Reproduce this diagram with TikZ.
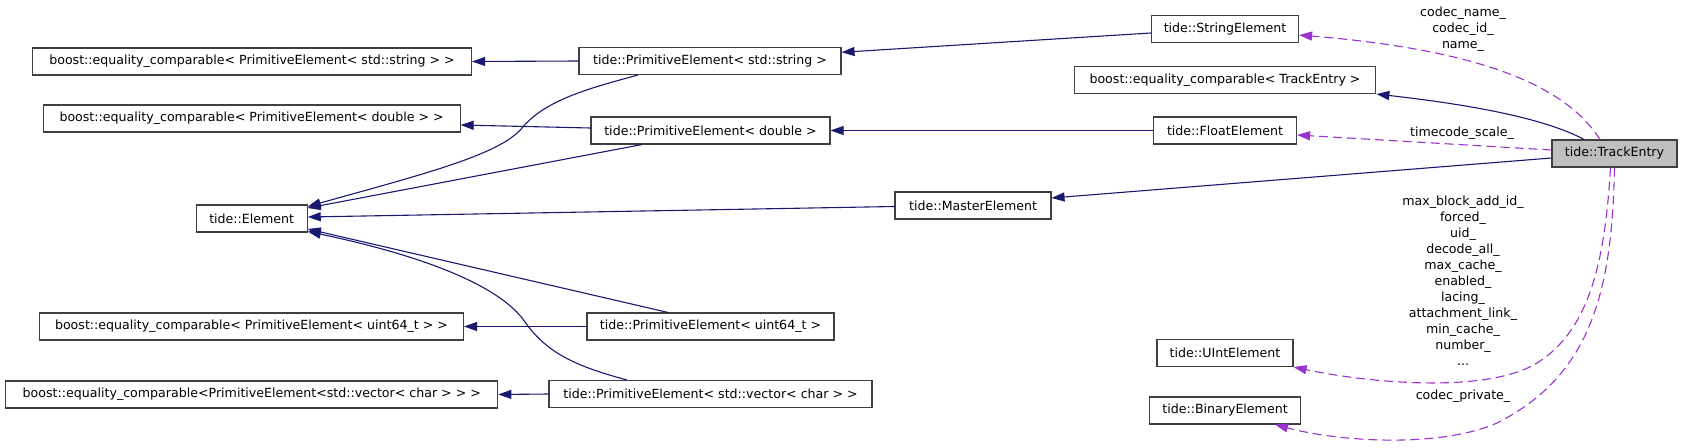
\documentclass[tikz,border=0pt]{standalone}
\usepackage{fontspec}
\setmainfont{DejaVu Sans}
\usetikzlibrary{arrows.meta,calc}
\definecolor{navyedge}{HTML}{191970}
\definecolor{orchid}{HTML}{9A32CD}
\definecolor{selfill}{HTML}{BFBFBF}
\definecolor{boxline}{HTML}{404040}
\tikzset{
  cls/.style={draw=boxline, line width=1.1pt, minimum height=27pt, inner sep=0pt,
    font=\fontsize{12.6}{15}\selectfont, text=black},
  inh/.style={draw=navyedge, line width=1.1pt, -{Triangle[length=13pt,width=9pt]}},
  usedash/.style={draw=orchid, line width=1.1pt, dash pattern=on 9pt off 5pt,
    -{Triangle[length=13pt,width=9pt]}},
  lbl/.style={font=\fontsize{12.6}{16}\selectfont, align=center, inner sep=0pt, text=black}
}
\begin{document}
\begin{tikzpicture}[x=1pt,y=-1pt]
\useasboundingbox (0,0) rectangle (1683,447);
% left column
\node[cls, minimum width=439pt] (becs) at (252,61.5) {boost::equality\_comparable< PrimitiveElement< std::string > >};
\node[cls, minimum width=417pt] (becd) at (251.6,118.5) {boost::equality\_comparable< PrimitiveElement< double > >};
\node[cls, minimum width=111pt] (elem) at (251.7,218.5) {tide::Element};
\node[cls, minimum width=424pt] (becu) at (251.5,326.5) {boost::equality\_comparable< PrimitiveElement< uint64\_t > >};
\node[cls, minimum width=492pt] (becv) at (251.8,394.5) {boost::equality\_comparable<PrimitiveElement<std::vector< char > > >};
% middle column
\node[cls, minimum width=262pt] (pes) at (710,61) {tide::PrimitiveElement< std::string >};
\node[cls, minimum width=239pt] (ped) at (710.5,130.5) {tide::PrimitiveElement< double >};
\node[cls, minimum width=156pt] (me) at (973,205.5) {tide::MasterElement};
\node[cls, minimum width=247pt] (peu) at (710.5,326.5) {tide::PrimitiveElement< uint64\_t >};
\node[cls, minimum width=323pt] (pev) at (710.5,394) {tide::PrimitiveElement< std::vector< char > >};
% right column
\node[cls, minimum width=147pt] (se) at (1225,29) {tide::StringElement};
\node[cls, minimum width=301.6pt] (bect) at (1225,80) {boost::equality\_comparable< TrackEntry >};
\node[cls, minimum width=143pt] (fe) at (1225,130.5) {tide::FloatElement};
\node[cls, minimum width=136pt] (ue) at (1225,353) {tide::UIntElement};
\node[cls, minimum width=151pt] (be) at (1225,410.5) {tide::BinaryElement};
\node[cls, minimum width=125pt, fill=selfill] (te) at (1614.5,153.5) {tide::TrackEntry};
% labels
\node[lbl] (lcodec) at (1463,29) {codec\_name\_\\codec\_id\_\\name\_};
\node[lbl] (ltime) at (1462,133) {timecode\_scale\_};
\node[lbl] (luint) at (1463,281) {max\_block\_add\_id\_\\forced\_\\uid\_\\decode\_all\_\\max\_cache\_\\enabled\_\\lacing\_\\attachment\_link\_\\min\_cache\_\\number\_\\...};
\node[lbl] (lpriv) at (1463,396) {codec\_private\_};
% inheritance edges
\draw[inh] (pes.west) -- (becs.east);
\draw[inh] ($(pes.south)+(-72,0)$) .. controls (590,88) and (545,100) .. (522,128)
  .. controls (500,155) and (420,175) .. ($(elem.east)+(0,-12)$);
\draw[inh] ($(ped.west)+(0,-2.5)$) -- ($(becd.east)+(0,6.5)$);
\draw[inh] ($(ped.south)+(-68.5,0)$) -- ($(elem.east)+(0,-10.5)$);
\draw[inh] ($(me.west)+(0,1)$) -- ($(elem.east)+(0,-1.5)$);
\draw[inh] (peu.west) -- (becu.east);
\draw[inh] ($(peu.north)+(-42.5,0)$) -- ($(elem.east)+(0,10.5)$);
\draw[inh] (pev.west) -- (becv.east);
\draw[inh] ($(pev.north)+(-83.5,0)$) .. controls (570,365) and (545,350) .. (525,322)
  .. controls (500,285) and (420,255) .. ($(elem.east)+(0,13)$);
\draw[inh] ($(se.west)+(0,4)$) -- ($(pes.east)+(0,-8.7)$);
\draw[inh] (fe.west) -- (ped.east);
\draw[inh] ($(te.west)+(0,4.5)$) -- ($(me.east)+(0,-7.5)$);
\draw[inh] ($(te.north)+(-30.4,0)$) .. controls (1555,124) and (1500,108) .. (bect.south east);
% usage edges
\draw[usedash] ($(te.north)+(-14.5,0)$) .. controls (1565,85) and (1480,50) .. ($(se.east)+(0,6)$);
\draw[usedash] ($(te.west)+(0,-3.5)$) -- ($(fe.east)+(0,4.5)$);
\draw[usedash] ($(te.south)+(-4,0)$) .. controls (1605,260) and (1590,330) .. (1537,363)
  .. controls (1490,392) and (1380,385) .. (ue.south east);
\draw[usedash] (te.south) .. controls (1612,290) and (1592,375) .. (1497,423)
  .. controls (1440,448) and (1340,442) .. ($(be.south)+(50,0)$);
\end{tikzpicture}
\end{document}
